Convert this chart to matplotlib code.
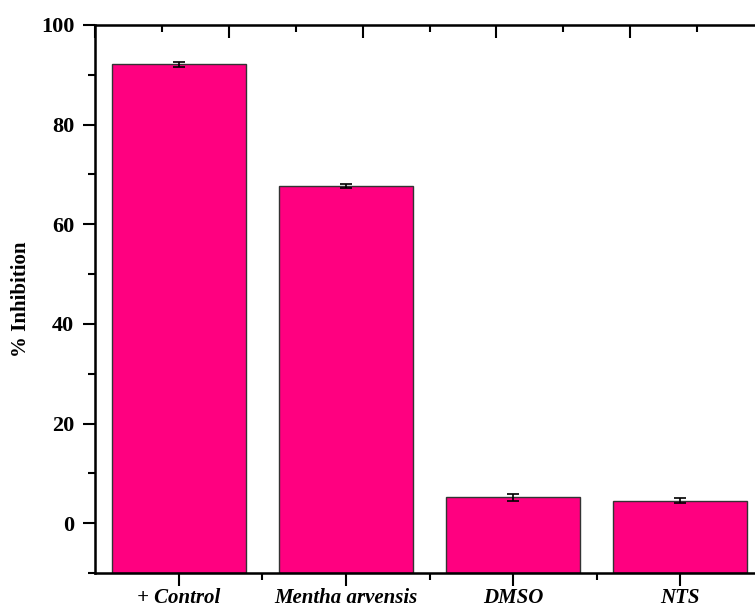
import matplotlib
matplotlib.use("Agg")
import matplotlib.pyplot as plt
from matplotlib.ticker import MultipleLocator, NullFormatter

# % inhibition per treatment, mean and error
categories = ["+ Control", "Mentha arvensis", "DMSO", "NTS"]
inhibition = [92.1, 67.7, 5.2, 4.5]
errors = [0.5, 0.4, 0.7, 0.5]
yticks = [0, 20, 40, 60, 80, 100]
ymin, ymax = -10, 100

plt.rcParams["font.family"] = ["Liberation Serif", "DejaVu Serif"]
plt.rcParams["font.weight"] = "bold"

fig = plt.figure(figsize=(7.55, 6.09), dpi=100)
ax = fig.add_axes([95 / 755, 1 - 573 / 609, 669 / 755, 548 / 609])

x = list(range(1, len(categories) + 1))
# bars rise from the bottom of the frame
ax.bar(x, [v - ymin for v in inhibition], bottom=ymin, width=0.8,
       color="#ff0080", edgecolor="#333333", linewidth=1.0, zorder=2)
ax.errorbar(x, inhibition, yerr=errors, fmt="none", ecolor="black",
            elinewidth=1.2, capsize=4, capthick=1.2, zorder=3)

ax.set_xlim(0.5, len(categories) + 0.5)
ax.set_ylim(ymin, ymax)
ax.set_yticks(yticks)
ax.yaxis.set_minor_locator(MultipleLocator(10))
ax.set_xticks(x)
ax.set_xticklabels(categories, fontsize=15, fontstyle="italic", fontweight="bold")
ax.set_xticks([v + 0.5 for v in x[:-1]], minor=True)
ax.tick_params(axis="y", labelsize=16, width=1.5, length=9, pad=6)
ax.tick_params(axis="y", which="minor", width=1.5, length=5)
ax.tick_params(axis="x", width=1.5, length=9, pad=2)
ax.tick_params(axis="x", which="minor", width=1.5, length=5)
ax.tick_params(right=False, which="both")
ax.set_ylabel("% Inhibition", fontsize=15, fontweight="bold", labelpad=7)

for s in ax.spines.values():
    s.set_linewidth(1.8)

# top frame axis with its own unlabeled ticks
top = ax.twiny()
top.set_xlim(0, 10)
top.xaxis.set_major_locator(MultipleLocator(2))
top.xaxis.set_minor_locator(MultipleLocator(1))
top.xaxis.set_major_formatter(NullFormatter())
top.tick_params(axis="x", direction="in", width=1.5, length=9)
top.tick_params(axis="x", which="minor", direction="in", width=1.5, length=5)

fig.savefig("out.png", dpi=100)
plt.close(fig)
